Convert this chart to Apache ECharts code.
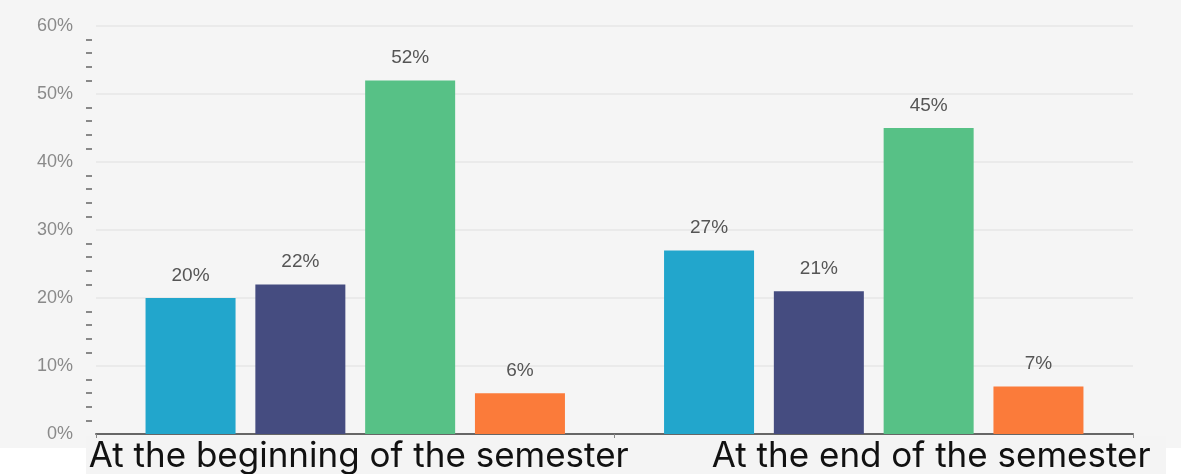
<!DOCTYPE html>
<html>
<head>
<meta charset="utf-8">
<script src="https://cdn.jsdelivr.net/npm/echarts@6/dist/echarts.min.js"></script>
<style>
html,body{margin:0;padding:0;background:#ffffff;}
#c{width:1181px;height:474px;}
</style>
</head>
<body>
<div id="c"></div>
<script>
const categories = ['At the beginning of the semester', 'At the end of the semester'];
const seriesA = [20, 27];
const seriesB = [22, 21];
const seriesC = [52, 45];
const seriesD = [6, 7];
const colors = ['#22a6cc', '#454c80', '#57c186', '#fb7b3a'];

const chart = echarts.init(document.getElementById('c'), null, {renderer: 'canvas'});
const mk = (data, i) => ({
  type: 'bar',
  data: data,
  barWidth: 90,
  barGap: '22%',
  itemStyle: {color: colors[i]},
  label: {
    show: true, position: 'top', distance: 13,
    formatter: '{c}%', color: '#555', fontSize: 19,
    fontFamily: 'Liberation Sans'
  }
});
chart.setOption({
  animation: false,
  graphic: [
    {type: 'rect', z: -10, shape: {x: 0, y: 0, width: 1181, height: 448}, style: {fill: '#f5f5f5'}, silent: true},
    {type: 'rect', z: -10, shape: {x: 86, y: 436, width: 1080, height: 38}, style: {fill: '#f4f4f4'}, silent: true}
  ],
  grid: {left: 96, right: 48, top: 26, bottom: 40},
  xAxis: {
    type: 'category',
    data: categories,
    axisLine: {lineStyle: {color: '#666', width: 2}},
    axisTick: {show: true, length: 4, lineStyle: {color: '#888'}},
    axisLabel: {
      margin: 5,
      formatter: function (v, i) { return i === 0 ? '{a|' + v + '}' : '{b|' + v + '}'; },
      rich: {
        a: {fontSize: 35, color: '#111', fontFamily: 'Inter', padding: [0, 0, 0, 7]},
        b: {fontSize: 35, color: '#111', fontFamily: 'Inter', padding: [0, 0, 0, 115]}
      }
    }
  },
  yAxis: {
    type: 'value',
    min: 0, max: 60, interval: 10,
    offset: 4,
    axisLine: {show: false},
    axisTick: {show: false},
    minorTick: {show: true, splitNumber: 5, length: 6, lineStyle: {color: '#666', width: 1.5}},
    axisLabel: {formatter: '{value}%', color: '#8a8a8a', fontSize: 18, margin: 19, fontFamily: 'Liberation Sans'},
    splitLine: {show: true, lineStyle: {color: '#e6e6e6', width: 1.5}}
  },
  series: [mk(seriesA, 0), mk(seriesB, 1), mk(seriesC, 2), mk(seriesD, 3)]
});
</script>
</body>
</html>
